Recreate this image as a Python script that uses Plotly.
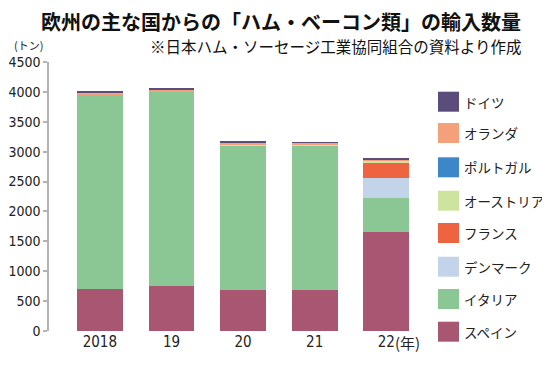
import plotly.graph_objects as go

years = ["2018", "19", "20", "21", "22"]
series_names = ["スペイン", "イタリア", "デンマーク", "フランス", "オーストリア", "ポルトガル", "オランダ", "ドイツ"]
spain = [700, 760, 690, 690, 1660]
italy = [3250, 3230, 2420, 2420, 560]
denmark = [0, 0, 0, 0, 335]
france = [0, 0, 0, 0, 260]
austria = [10, 0, 15, 10, 30]
portugal = [0, 0, 0, 0, 15]
netherlands = [25, 35, 30, 25, 10]
germany = [35, 35, 20, 5, 25]
colors = ["#a95672", "#8bc695", "#c3d3ea", "#ee6440", "#cfe3a1", "#3d86c9", "#f3a07b", "#5a4d7c"]
yticks = [0, 500, 1000, 1500, 2000, 2500, 3000, 3500, 4000, 4500]

values = [spain, italy, denmark, france, austria, portugal, netherlands, germany]

NUM_FONT = "DejaVu Sans Condensed, Noto Sans CJK JP"
JP_FONT = "Noto Sans CJK JP"

fig = go.Figure()
for name, vals, col in zip(series_names, values, colors):
    fig.add_trace(go.Bar(x=years, y=vals, name=name, marker=dict(color=col, line=dict(width=0)),
                         showlegend=False))

# page has an 8px body margin; figure is sized to fit the 550x365 window
O = 8
W, H = 550 - O, 365 - O
L, R, T, B = 41, 120, 54, 34
pw, ph = W - L - R, H - T - B


def px(xp):
    return (xp - O - L) / pw


def py(yp):
    return (H - B - (yp - O)) / ph


fig.update_layout(
    width=W, height=H, barmode="stack", bargap=0.36,
    margin=dict(l=L, r=R, t=T, b=B, autoexpand=False),
    paper_bgcolor="white", plot_bgcolor="white",
    xaxis=dict(type="category", range=[-0.71, 4.61], showline=False, ticks="", automargin=False,
               showgrid=False, tickfont=dict(family=NUM_FONT, size=15, color="#222")),
    yaxis=dict(range=[0, 4500], tickvals=yticks, showgrid=False, zeroline=False, automargin=False,
               showline=True, linecolor="#b3b3b3", linewidth=1.5,
               ticks="outside", ticklen=4, tickcolor="#b3b3b3", tickwidth=1.5,
               tickfont=dict(family=NUM_FONT, size=14, color="#222")),
)

annotations = [
    dict(text="<b>欧州の主な国からの「ハム・ベーコン類」の輸入数量</b>", x=px(523), y=py(22),
         xref="paper", yref="paper", xanchor="right", yanchor="middle", showarrow=False,
         font=dict(family=JP_FONT, size=20, color="#111")),
    dict(text="※日本ハム・ソーセージ工業協同組合の資料より作成", x=px(523), y=py(46),
         xref="paper", yref="paper", xanchor="right", yanchor="middle", showarrow=False,
         font=dict(family=JP_FONT, size=15.5, color="#111")),
    dict(text="(トン)", x=px(28), y=py(45), xref="paper", yref="paper",
         xanchor="center", yanchor="middle", showarrow=False,
         font=dict(family=JP_FONT, size=11, color="#222")),
    dict(text="(年)", x=px(393), y=py(342), xref="paper", yref="paper",
         xanchor="left", yanchor="middle", showarrow=False,
         font=dict(family=JP_FONT, size=15, color="#222")),
]

shapes = []
leg_centers = [331.7, 299, 266.7, 233, 200.7, 167.3, 133, 101.7]
for name, col, cy in zip(series_names, colors, leg_centers):
    shapes.append(dict(type="rect", xref="paper", yref="paper",
                       x0=px(438), x1=px(459), y0=py(cy + 10), y1=py(cy - 10),
                       fillcolor=col, line=dict(width=0)))
    annotations.append(dict(text=name, x=px(462), y=py(cy), xref="paper", yref="paper",
                            xanchor="left", yanchor="middle", showarrow=False,
                            font=dict(family=JP_FONT, size=13.5, color="#222")))

fig.update_layout(annotations=annotations, shapes=shapes)
fig.write_html("out.html")
